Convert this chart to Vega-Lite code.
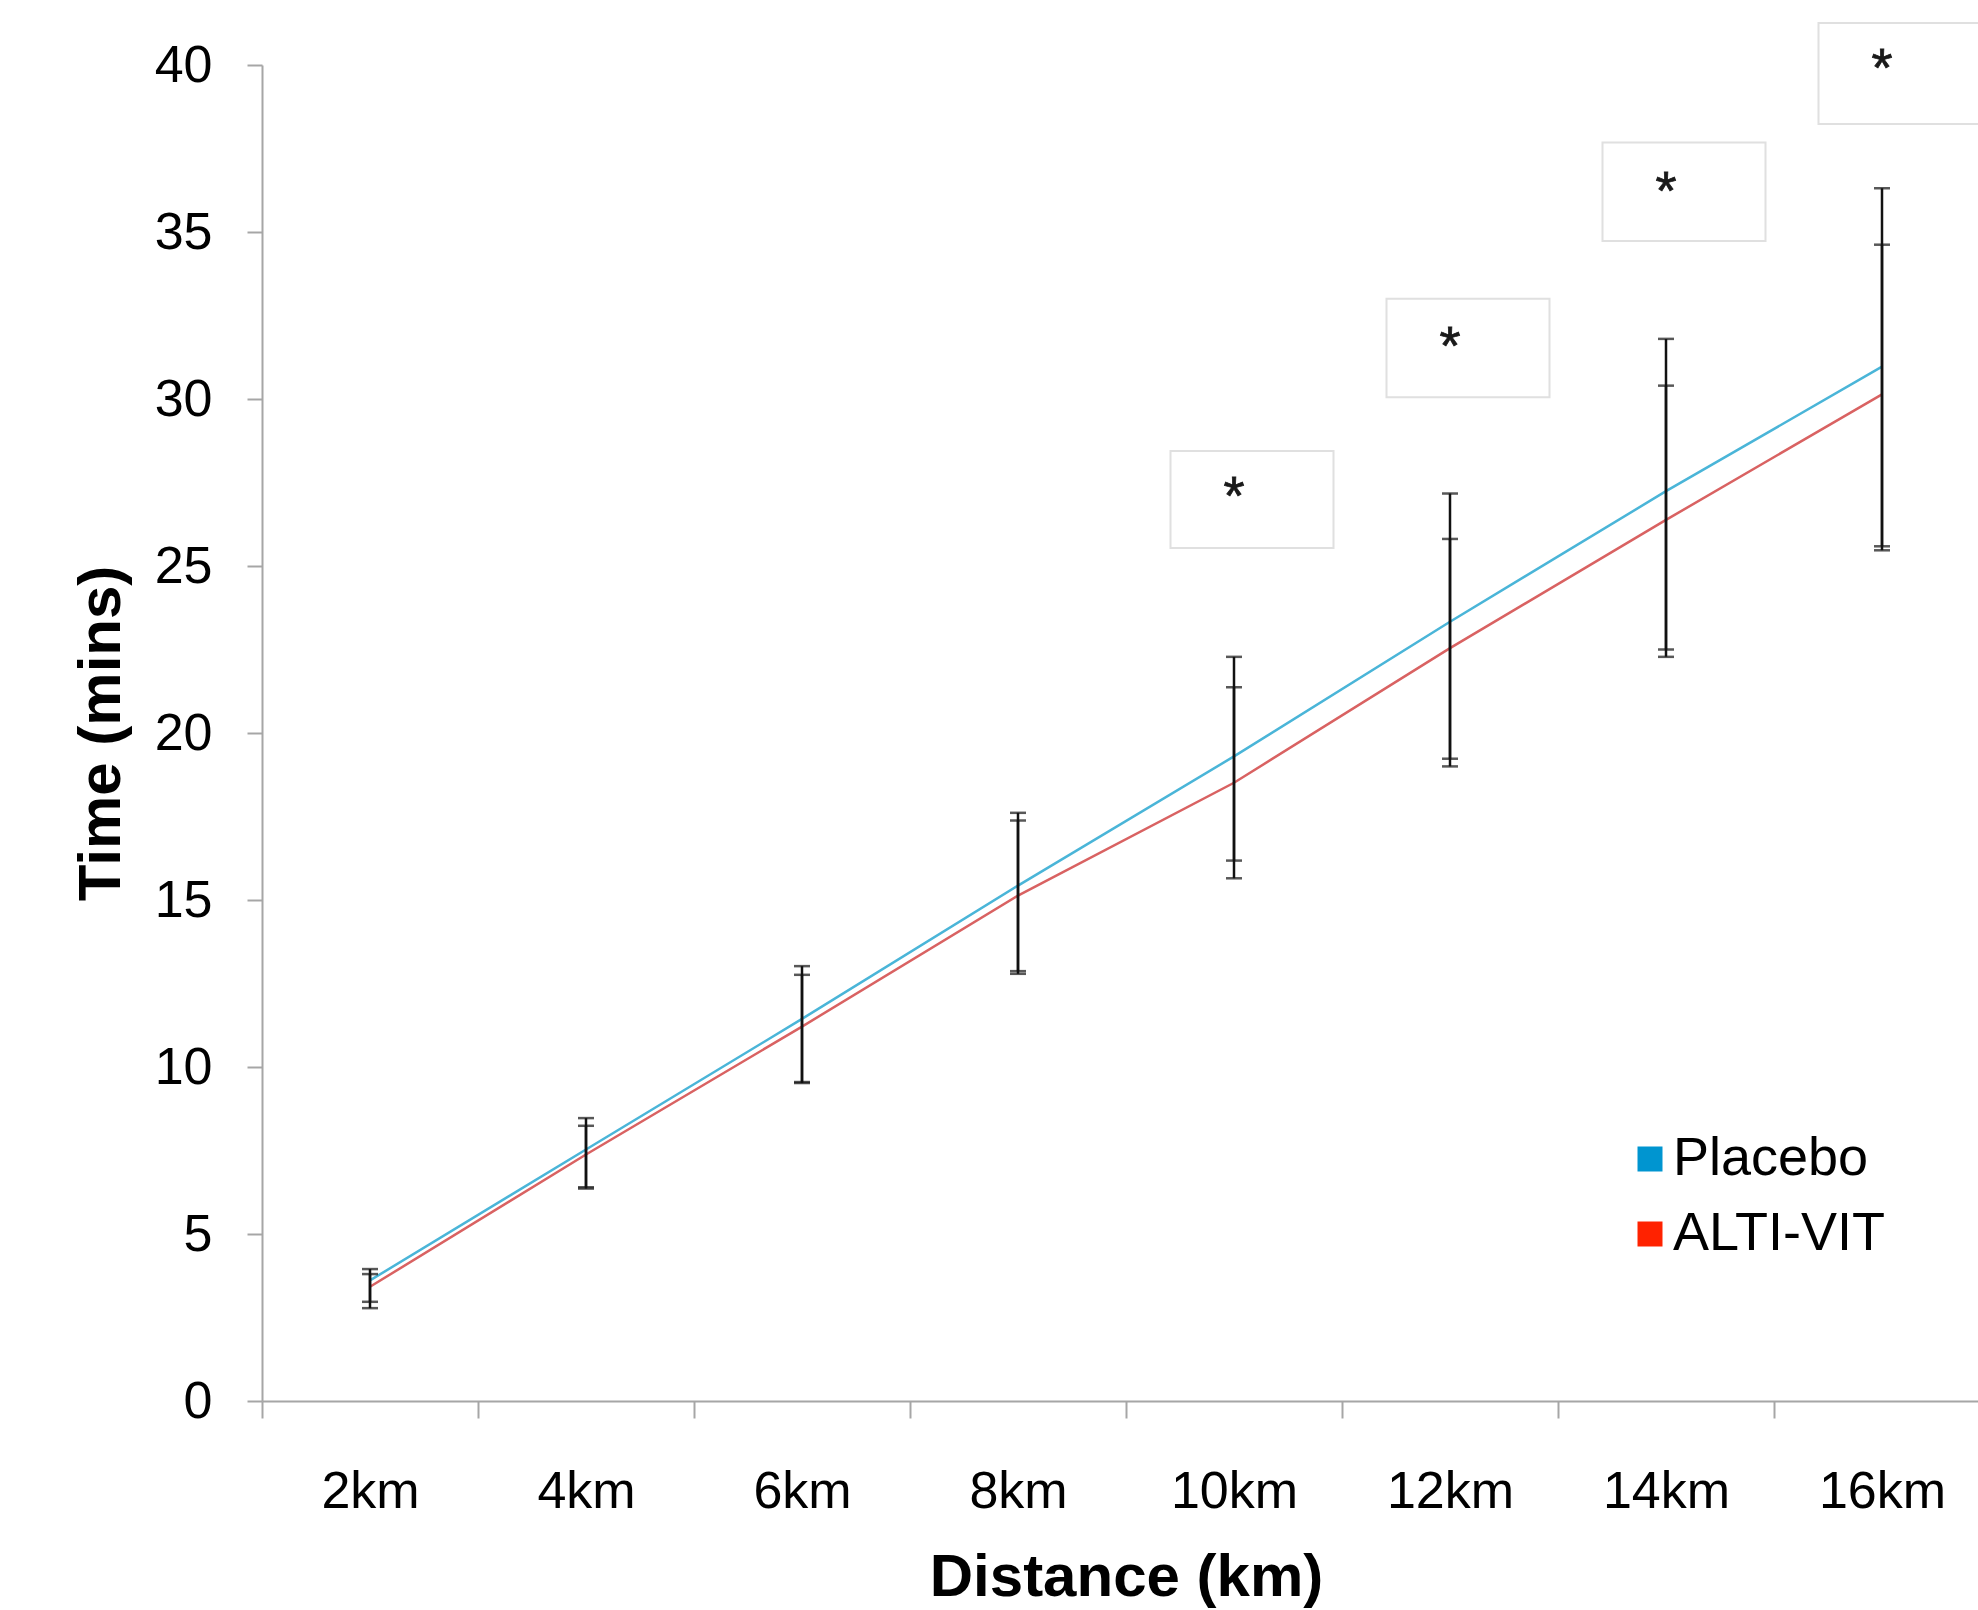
{
  "$schema": "https://vega.github.io/schema/vega-lite/v6.json",
  "width": 1728,
  "height": 1336,
  "autosize": {"type": "none"},
  "padding": {"left": 262, "top": 65, "right": 0, "bottom": 209},
  "background": "white",
  "config": {
    "view": {"stroke": null},
    "font": "Liberation Sans",
    "axis": {"grid": false, "labelFont": "Liberation Sans", "titleFont": "Liberation Sans", "labelColor": "#000000", "titleColor": "#000000", "domainColor": "#a6a6a6", "domainWidth": 2, "tickColor": "#a6a6a6", "tickWidth": 2}
  },
  "datasets": {
    "means": [
      {"distance": "2km", "group": "Placebo", "time": 3.61, "lo": 2.97, "hi": 3.95},
      {"distance": "4km", "group": "Placebo", "time": 7.53, "lo": 6.40, "hi": 8.47},
      {"distance": "6km", "group": "Placebo", "time": 11.44, "lo": 9.55, "hi": 13.02},
      {"distance": "8km", "group": "Placebo", "time": 15.43, "lo": 12.87, "hi": 17.61},
      {"distance": "10km", "group": "Placebo", "time": 19.30, "lo": 16.18, "hi": 22.28},
      {"distance": "12km", "group": "Placebo", "time": 23.33, "lo": 19.23, "hi": 27.17},
      {"distance": "14km", "group": "Placebo", "time": 27.24, "lo": 22.50, "hi": 31.80},
      {"distance": "16km", "group": "Placebo", "time": 30.97, "lo": 25.59, "hi": 36.31},
      {"distance": "2km", "group": "ALTI-VIT", "time": 3.42, "lo": 2.78, "hi": 3.80},
      {"distance": "4km", "group": "ALTI-VIT", "time": 7.38, "lo": 6.36, "hi": 8.24},
      {"distance": "6km", "group": "ALTI-VIT", "time": 11.21, "lo": 9.52, "hi": 12.76},
      {"distance": "8km", "group": "ALTI-VIT", "time": 15.13, "lo": 12.79, "hi": 17.38},
      {"distance": "10km", "group": "ALTI-VIT", "time": 18.51, "lo": 15.65, "hi": 21.37},
      {"distance": "12km", "group": "ALTI-VIT", "time": 22.54, "lo": 19.00, "hi": 25.81},
      {"distance": "14km", "group": "ALTI-VIT", "time": 26.38, "lo": 22.28, "hi": 30.40},
      {"distance": "16km", "group": "ALTI-VIT", "time": 30.14, "lo": 25.47, "hi": 34.62}
    ],
    "notes": [
      {"distance": "10km", "lo": 25.54, "hi": 28.44, "star": 26.56, "label": "*"},
      {"distance": "12km", "lo": 30.05, "hi": 33.0, "star": 31.05, "label": "*"},
      {"distance": "14km", "lo": 34.73, "hi": 37.68, "star": 35.69, "label": "*"},
      {"distance": "16km", "lo": 38.23, "hi": 41.26, "star": 39.37, "label": "*"}
    ]
  },
  "encoding": {
    "x": {
      "field": "distance", "type": "nominal",
      "sort": ["2km", "4km", "6km", "8km", "10km", "12km", "14km", "16km"],
      "scale": {"paddingInner": 0, "paddingOuter": 0},
      "axis": {"title": "Distance (km)", "labelAngle": 0, "tickBand": "extent", "tickSize": 17, "labelPadding": 48, "labelFontSize": 52, "titleFontSize": 60, "titleFontWeight": "bold", "titleY": 176, "titleX": 864, "titleBaseline": "middle"}
    }
  },
  "layer": [
    {
      "data": {"name": "notes"},
      "mark": {"type": "bar", "width": 163, "xOffset": 18, "fill": "white", "stroke": "#e0e0e0", "strokeWidth": 2},
      "encoding": {
        "y": {"field": "lo", "type": "quantitative"},
        "y2": {"field": "hi"}
      }
    },
    {
      "data": {"name": "means"},
      "mark": {"type": "line", "strokeWidth": 2.5},
      "encoding": {
        "y": {
          "field": "time", "type": "quantitative",
          "scale": {"domain": [0, 40], "nice": false, "zero": true},
          "axis": {"title": "Time (mins)", "values": [0, 5, 10, 15, 20, 25, 30, 35, 40], "tickSize": 15, "labelPadding": 35, "labelFontSize": 52, "titleFontSize": 60, "titleFontWeight": "bold", "titleX": -161, "titleY": 668, "titleAngle": -90, "titleBaseline": "middle", "titleAlign": "center"}
        },
        "detail": {"field": "group", "type": "nominal"},
        "stroke": {"condition": {"test": "datum.group === 'Placebo'", "value": "#4ab5d8"}, "value": "#d96262"}
      }
    },
    {
      "data": {"name": "means"},
      "mark": {"type": "rule", "color": "#111111", "strokeWidth": 2.5},
      "encoding": {
        "y": {"field": "lo", "type": "quantitative"},
        "y2": {"field": "hi"}
      }
    },
    {
      "data": {"name": "means"},
      "mark": {"type": "tick", "color": "#111111", "size": 16, "thickness": 2.5},
      "encoding": {
        "y": {"field": "hi", "type": "quantitative"}
      }
    },
    {
      "data": {"name": "means"},
      "mark": {"type": "tick", "color": "#111111", "size": 16, "thickness": 2.5},
      "encoding": {
        "y": {"field": "lo", "type": "quantitative"}
      }
    },
    {
      "data": {"name": "means"},
      "mark": {"type": "point", "shape": "square", "opacity": 0, "filled": true},
      "encoding": {
        "y": {"field": "time", "type": "quantitative"},
        "fill": {
          "field": "group", "type": "nominal",
          "scale": {"domain": ["Placebo", "ALTI-VIT"], "range": ["#0095d0", "#ff2200"]},
          "legend": {
            "title": null, "orient": "none", "legendX": 1361, "legendY": 1067, "padding": 0,
            "symbolType": "square", "symbolSize": 625, "symbolOpacity": 1, "symbolStrokeWidth": 0,
            "labelFontSize": 54, "labelFont": "Liberation Sans", "labelColor": "#000000", "labelOffset": -4, "rowPadding": 21, "labelLimit": 400,
            "encode": {"symbols": {"update": {"opacity": {"value": 1}, "fillOpacity": {"value": 1}}}}
          }
        }
      }
    },
    {
      "data": {"name": "notes"},
      "mark": {"type": "text", "fontSize": 54, "color": "#1a1a1a", "baseline": "alphabetic", "align": "center", "stroke": "#1a1a1a", "strokeWidth": 0.8},
      "encoding": {
        "y": {"field": "star", "type": "quantitative"},
        "text": {"field": "label"}
      }
    }
  ]
}
